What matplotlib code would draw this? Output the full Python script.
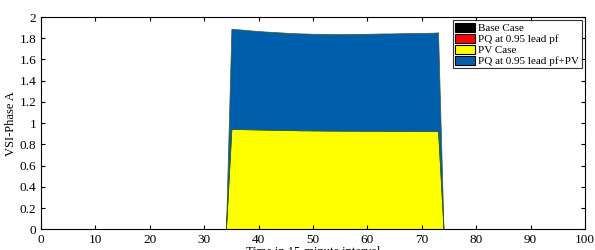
import numpy as np
import matplotlib
matplotlib.use("Agg")
import matplotlib.pyplot as plt

plt.rcParams['font.family'] = ['Liberation Serif', 'DejaVu Serif']

time = list(range(1, 97))
# nonzero window (intervals 35..73)
start, end = 35, 73
pv_window = [0.945, 0.944, 0.943, 0.942, 0.941, 0.940, 0.939, 0.938, 0.937, 0.936,
             0.935, 0.934, 0.933, 0.932, 0.932, 0.931, 0.931, 0.930, 0.930, 0.930,
             0.929, 0.929, 0.929, 0.929, 0.928, 0.928, 0.928, 0.928, 0.928, 0.927,
             0.927, 0.927, 0.927, 0.927, 0.926, 0.926, 0.926, 0.926, 0.925]
pqpv_window = [0.945, 0.941, 0.938, 0.934, 0.931, 0.928, 0.925, 0.923, 0.921, 0.919,
               0.917, 0.915, 0.914, 0.913, 0.912, 0.911, 0.911, 0.910, 0.910, 0.910,
               0.910, 0.911, 0.911, 0.912, 0.913, 0.914, 0.915, 0.916, 0.917, 0.918,
               0.919, 0.920, 0.921, 0.922, 0.923, 0.924, 0.925, 0.926, 0.930]

base_case = [0.0] * 96
pq_lead = [0.0] * 96
pv_case = [0.0] * 96
pq_pv = [0.0] * 96
for i, t in enumerate(range(start, end + 1)):
    pv_case[t - 1] = pv_window[i]
    pq_pv[t - 1] = pqpv_window[i]

labels = ['Base Case', 'PQ at 0.95 lead pf', 'PV Case', 'PQ at 0.95 lead pf+PV']
colors = ['#000000', '#ff0000', '#ffff00', '#005fad']

fig = plt.figure(figsize=(5.95, 2.5), dpi=100)
ax = fig.add_axes([0.069, 0.083, 0.914, 0.849])
ax.stackplot(time, base_case, pq_lead, pv_case, pq_pv, labels=labels, colors=colors,
             edgecolor='#3a5a20', linewidth=0.5)

ax.set_xlim(0, 100)
ax.set_ylim(0, 2)
ax.set_xticks(np.arange(0, 101, 10))
ax.set_yticks(np.arange(0, 2.01, 0.2))
ax.set_yticklabels(['0', '0.2', '0.4', '0.6', '0.8', '1', '1.2', '1.4', '1.6', '1.8', '2'])
ax.tick_params(direction='in', top=True, right=True, labelsize=9.5, length=3, width=0.8)
for s in ax.spines.values():
    s.set_linewidth(0.8)
ax.set_ylabel('VSI-Phase A', fontsize=9, labelpad=2)
ax.set_xlabel('Time in 15-minute interval', fontsize=9, labelpad=0)

leg = ax.legend(loc='upper right', fontsize=8, frameon=True, fancybox=False,
                edgecolor='black', borderpad=0.2, labelspacing=0.05,
                handlelength=1.8, handleheight=0.9, handletextpad=0.3,
                borderaxespad=0.3)
leg.get_frame().set_linewidth(0.8)
for h in leg.legend_handles:
    h.set_edgecolor('black')
    h.set_linewidth(0.8)

fig.savefig('out.png', dpi=100)
